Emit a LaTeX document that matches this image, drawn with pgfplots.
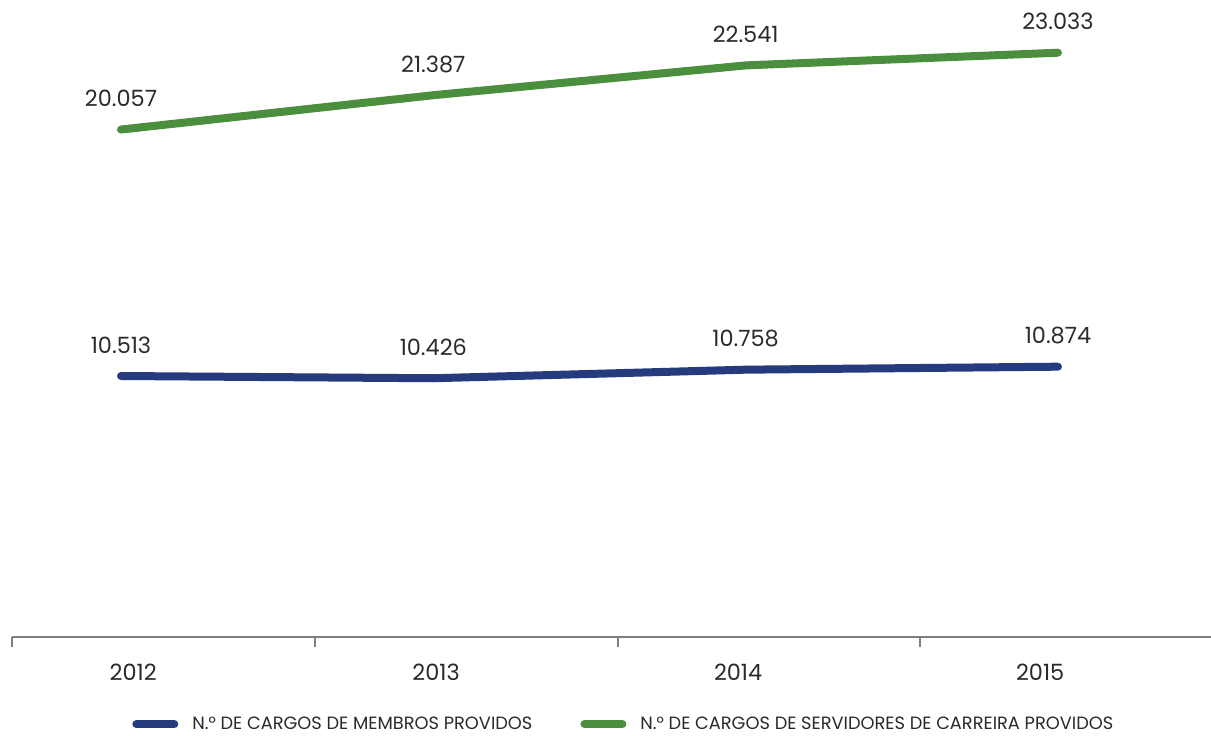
\documentclass[border=0pt]{standalone}
\usepackage{pgfplots}
\pgfplotsset{compat=1.18}
\usepackage{fontspec}
\setmainfont{Poppins}
\newfontfamily\legfont{Poppins}
\definecolor{cblue}{HTML}{263A7E}
\definecolor{cgreen}{HTML}{4A8E3E}
\definecolor{ctext}{HTML}{2A2A2A}
\definecolor{caxis}{HTML}{7F7F7F}
\begin{document}
\begin{tikzpicture}
\path[use as bounding box] (0,0) rectangle (605.5pt,367.5pt);
\begin{axis}[
  at={(6pt,49pt)}, anchor=south west,
  scale only axis, width=599.5pt, height=318.5pt,
  xmin=2011.651, xmax=2015.49, ymin=406, ymax=25074,
  axis x line=bottom, axis y line=none,
  axis line style={caxis, line width=1pt, -},
  xtick={2011.651,2012.621,2013.591,2014.558},
  xticklabels={},
  tick align=outside, major tick length=5pt,
  xtick style={caxis, line width=0.8pt},
  extra x ticks={2012.039,2013.009,2013.976,2014.943},
  extra x tick labels={2012,2013,2014,2015},
  extra x tick style={major tick length=0pt, tick style={draw=none},
    xticklabel style={yshift=-10pt}},
  xticklabel style={font=\fontsize{11.2}{13}\selectfont, text=ctext},
  clip=false,
  nodes near coords={\pgfplotspointmeta},
  point meta=explicit symbolic,
  every node near coord/.style={anchor=center, yshift=15.5pt, text=ctext, font=\fontsize{11.2}{13}\selectfont},
  legend columns=2,
  legend style={draw=none, fill=none, at={(0.095,-0.137)}, anchor=west,
    font=\legfont\fontsize{8.9}{10}\selectfont, text=ctext,
    /tikz/every even column/.append style={column sep=22pt}},
  legend image code/.code={\draw[#1, line width=4pt, line cap=round] (2pt,0pt) -- (21pt,0pt); \path (26pt,0pt);},
]
\addplot[cblue, line width=4pt, line cap=round, mark=none] table[meta=lab] {
x y lab
2012 10513 10.513
2013 10426 10.426
2014 10758 10.758
2015 10874 10.874
};
\addlegendentry{N.° DE CARGOS DE MEMBROS PROVIDOS}
\addplot[cgreen, line width=4pt, line cap=round, mark=none] table[meta=lab] {
x y lab
2012 20057 20.057
2013 21387 21.387
2014 22541 22.541
2015 23033 23.033
};
\addlegendentry{N.° DE CARGOS DE SERVIDORES DE CARREIRA PROVIDOS}
\end{axis}
\end{tikzpicture}
\end{document}
